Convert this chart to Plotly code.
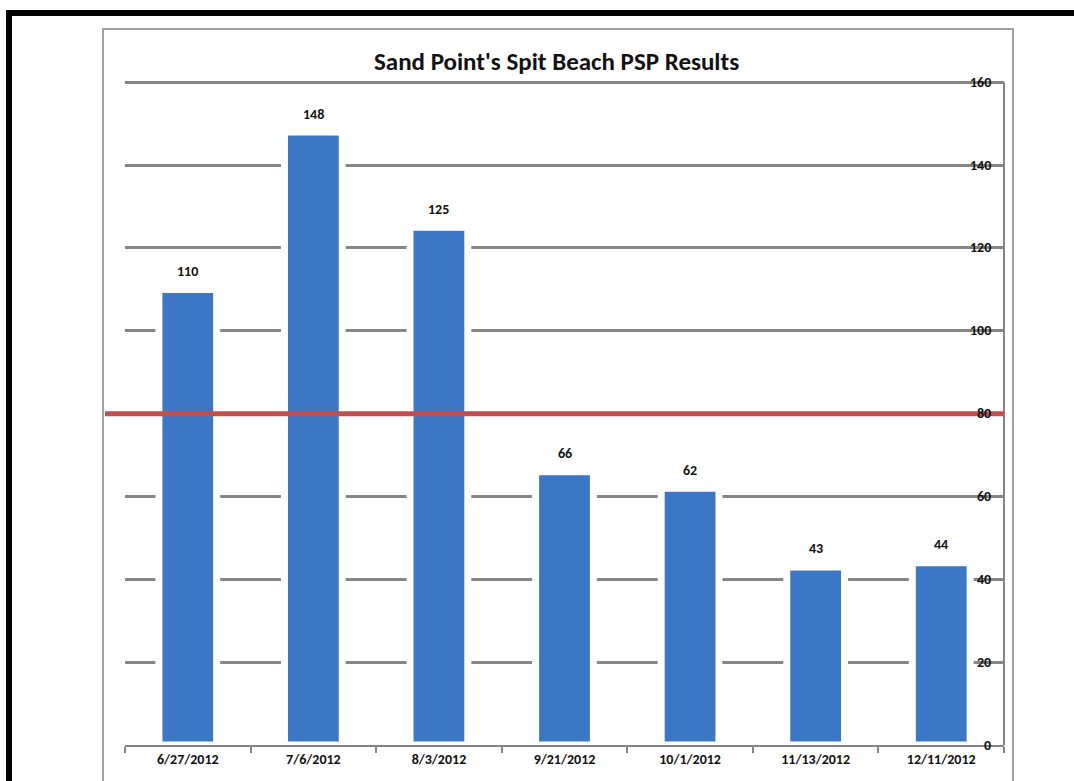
import plotly.graph_objects as go

# ---- data ----
dates = ["6/27/2012", "7/6/2012", "8/3/2012", "9/21/2012", "10/1/2012", "11/13/2012", "12/11/2012"]
psp_values = [110, 148, 125, 66, 62, 43, 44]
y_ticks = [0, 20, 40, 60, 80, 100, 120, 140, 160]
closure_level = 80
title_text = "Sand Point's Spit Beach PSP Results"

# ---- geometry helpers (pixel -> paper) ----
W, H = 1074, 781
L, R, T, B = 125, 70, 79, 36
PW, PH = W - L - R, H - T - B


def px(x):
    return (x - L) / PW


def py(y):
    return (H - B - y) / PH


FONT = "Carlito, Lato, 'Liberation Sans Narrow', 'Open Sans', Arial, sans-serif"
GRID = "#858585"

fig = go.Figure()
fig.add_trace(go.Bar(
    x=dates, y=psp_values,
    width=0.46,
    marker=dict(color="#3b77c5", line=dict(color="white", width=7)),
    hoverinfo="x+y",
))

# data labels above bars
annotations = [
    dict(x=d, y=v, xref="x", yref="y", text=f"<b>{v}</b>", showarrow=False,
         xanchor="center", yanchor="middle",
         yshift=18, font=dict(family=FONT, size=14, color="#111"))
    for d, v in zip(dates, psp_values)
]
# right-aligned value-axis labels sitting just inside the right axis line
annotations += [
    dict(x=px(993), y=t, xref="paper", yref="y", text=f"<b>{t}</b>", showarrow=False,
         xanchor="right", yanchor="middle",
         font=dict(family=FONT, size=14, color="#111"))
    for t in y_ticks
]
annotations.append(dict(x=px(556), y=py(61), xref="paper", yref="paper",
                        xanchor="center", yanchor="middle",
                        text=f"<b>{title_text}</b>", showarrow=False,
                        font=dict(family=FONT, size=25, color="#111")))

shapes = [
    # black frame (top + left)
    dict(type="line", xref="paper", yref="paper", x0=px(6), x1=px(1074), y0=py(13), y1=py(13),
         line=dict(color="black", width=6), layer="above"),
    dict(type="line", xref="paper", yref="paper", x0=px(9), x1=px(9), y0=py(10), y1=py(790),
         line=dict(color="black", width=6), layer="above"),
    # gray chart frame
    dict(type="rect", xref="paper", yref="paper", x0=px(103), x1=px(1013), y0=py(29), y1=py(800),
         line=dict(color="#a0a0a0", width=2), layer="below"),
    # right axis line
    dict(type="line", xref="paper", yref="y", x0=1, x1=1, y0=0, y1=160,
         line=dict(color=GRID, width=2), layer="above"),
    # red reference line
    dict(type="line", xref="paper", yref="y", x0=px(105), x1=1, y0=closure_level, y1=closure_level,
         line=dict(color="#c0504d", width=5), layer="above"),
]

fig.update_layout(
    width=W, height=H,
    margin=dict(l=L, r=R, t=T, b=B, autoexpand=False),
    paper_bgcolor="white", plot_bgcolor="white",
    showlegend=False,
    annotations=annotations,
    shapes=shapes,
    xaxis=dict(
        type="category", tickson="boundaries", ticks="outside", ticklen=6,
        tickcolor=GRID, tickwidth=2, showline=True, linecolor=GRID, linewidth=2,
        showgrid=False, tickfont=dict(family=FONT, size=14, color="#111", weight="bold"),
        automargin=False,
    ),
    yaxis=dict(
        side="right", range=[0, 160.8], tickvals=y_ticks, showticklabels=False,
        ticks="", showgrid=True, gridcolor=GRID, gridwidth=3, zeroline=False,
        showline=False, automargin=False,
    ),
)

fig.write_html("out.html", config={"displayModeBar": False},
               post_script="document.body.style.margin='0';")
